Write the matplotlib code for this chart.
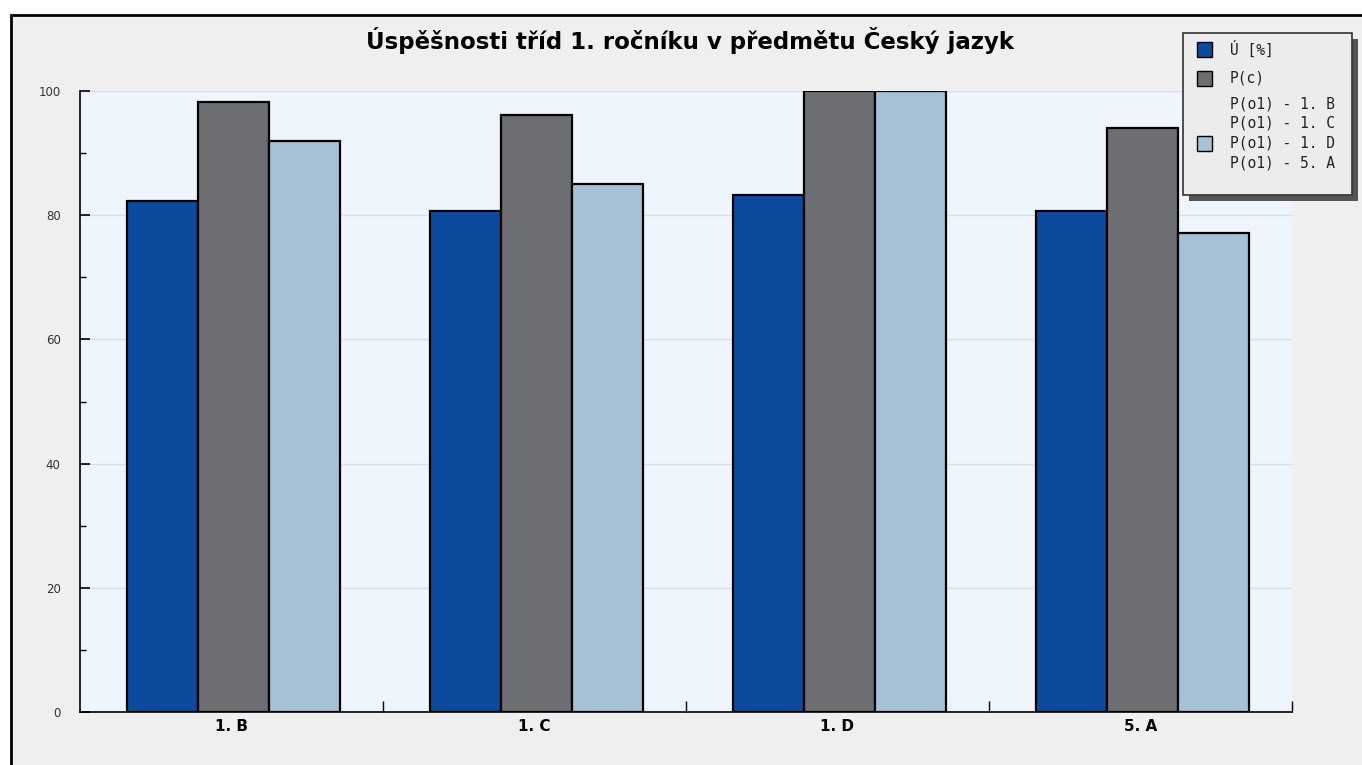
import matplotlib.pyplot as plt
import matplotlib.patches as patches
import numpy as np

groups = ['1. B', '1. C', '1. D', '5. A']
uspesnost = [82.3, 80.7, 83.3, 80.7]
p_c = [98.2, 96.1, 100.0, 94.0]
p_o1 = [91.9, 85.0, 100.0, 77.1]

series_labels = ['Ú [%]', 'P(c)']
o1_labels = ['P(o1) - 1. B', 'P(o1) - 1. C', 'P(o1) - 1. D', 'P(o1) - 5. A']
colors = ['#0c4a9e', '#6d6e72', '#a6c0d6']

W, H = 1362, 765
fig = plt.figure(figsize=(W / 100, H / 100), dpi=100)
fig.patch.set_facecolor('white')

def fx(px):
    return px / W

def fy(py):
    return 1 - py / H

# outer frame
frame = patches.Rectangle((fx(11), -0.1), 1.2, fy(15) + 0.1, transform=fig.transFigure,
                          facecolor='#efefef', edgecolor='black', linewidth=2, zorder=-5)
fig.patches.append(frame)

ax = fig.add_axes([fx(80), fy(712), fx(1292) - fx(80), fy(91) - fy(712)])
ax.set_zorder(1)
ax.set_facecolor('#eef5fd')

x = np.arange(len(groups))
bw = 0.235
for i, vals in enumerate([uspesnost, p_c, p_o1]):
    ax.bar(x + (i - 1) * bw + 0.006, vals, bw, color=colors[i], edgecolor='black',
           linewidth=1.6, zorder=3)

ax.set_xlim(-0.5, len(groups) - 0.5)
ax.set_ylim(0, 100)
ax.set_yticks(np.arange(0, 101, 20))
ax.set_yticks(np.arange(0, 101, 10), minor=True)
ax.yaxis.grid(True, which='major', color='#d8dde2', linewidth=1, zorder=0)
ax.set_axisbelow(True)
ax.tick_params(axis='y', which='major', direction='in', length=7, width=1.2, labelsize=8.5,
               labelcolor='#333333', pad=14)
ax.tick_params(axis='y', which='minor', direction='in', length=4, width=1)

ax.set_xticks(x)
ax.set_xticklabels(groups, fontsize=11, fontweight='bold')
ax.set_xticks(np.arange(0.5, len(groups), 1.0), minor=True)
ax.tick_params(axis='x', which='major', length=0, pad=5)
ax.tick_params(axis='x', which='minor', direction='in', length=8, width=1)

for s in ['top', 'right']:
    ax.spines[s].set_visible(False)
ax.spines['left'].set_linewidth(1.2)
ax.spines['bottom'].set_linewidth(1.2)

fig.text(fx(690), fy(40), 'Úspěšnosti tříd 1. ročníku v předmětu Český jazyk',
         ha='center', va='center', fontsize=16.5, fontweight='bold')

# legend with shadow, drawn in its own overlay axes so it sits above the plot
lax = fig.add_axes([0, 0, 1, 1])
lax.set_zorder(5)
lax.set_xlim(0, W)
lax.set_ylim(H, 0)
lax.axis('off')
lax.add_patch(patches.Rectangle((1189, 39), 169, 162, facecolor='#555555', edgecolor='none'))
lax.add_patch(patches.Rectangle((1183, 33), 169, 162, facecolor='#ececec', edgecolor='#333333',
                                linewidth=1.2))

mono = 'DejaVu Sans Mono'
rows = [(series_labels[0], 49, colors[0]), (series_labels[1], 78, colors[1]),
        (o1_labels[0], 104, None), (o1_labels[1], 123, None),
        (o1_labels[2], 143, colors[2]), (o1_labels[3], 163, None)]
for label, py, c in rows:
    if c is not None:
        lax.add_patch(patches.Rectangle((1197, py - 7), 15, 15, facecolor=c, edgecolor='black',
                                        linewidth=1))
    lax.text(1230, py, label, ha='left', va='center', fontsize=10.5, family=mono, color='#222222')

fig.savefig('out.png', dpi=100)
